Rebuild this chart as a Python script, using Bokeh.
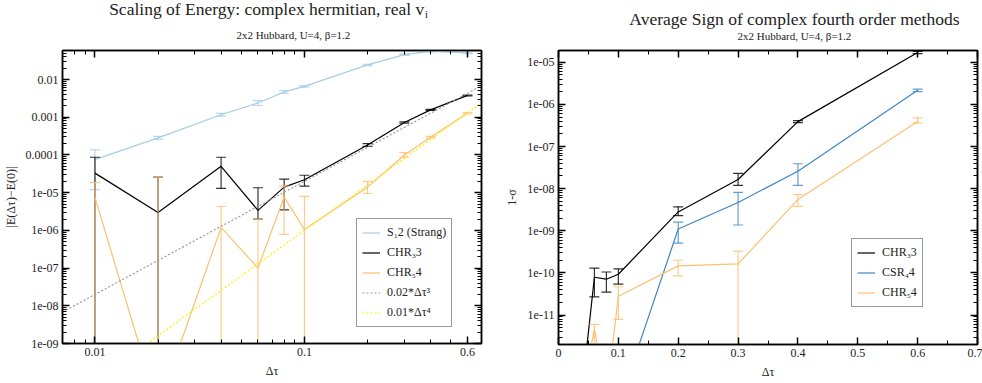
from bokeh.plotting import figure
from bokeh.layouts import row, column
from bokeh.models import (Range1d, FixedTicker, LogAxis, LinearAxis, CustomJSTickFormatter,
                          Legend, LegendItem)
from bokeh.core.properties import value
from bokeh.embed import file_html
from bokeh.resources import INLINE

FONT = "Liberation Serif"

# ---------------- data: left panel (energy scaling) ----------------
dt_strang = [0.01, 0.02, 0.04, 0.06, 0.08, 0.1, 0.2, 0.3, 0.4, 0.6]
e_strang = [7.5e-5, 2.85e-4, 1.17e-3, 2.4e-3, 4.7e-3, 6.6e-3, 2.45e-2, 4.6e-2, 5.6e-2, 5.1e-2]
e_strang_lo = [1.2e-5, 2.6e-4, 1.07e-3, 2.05e-3, 4.3e-3, 6.3e-3, 2.35e-2, 4.4e-2, 5.4e-2, 4.9e-2]
e_strang_hi = [1.37e-4, 3.1e-4, 1.27e-3, 2.75e-3, 5.1e-3, 6.9e-3, 2.55e-2, 4.8e-2, 5.8e-2, 5.3e-2]

dt_chr3 = [0.01, 0.02, 0.04, 0.06, 0.08, 0.1, 0.2, 0.3, 0.4, 0.6]
e_chr3 = [3.3e-5, 3.0e-6, 5.0e-5, 3.4e-6, 1.4e-5, 2.2e-5, 1.85e-4, 7.3e-4, 1.57e-3, 3.8e-3]
e_chr3_lo = [0, 0, 1.3e-5, 2.0e-6, 3.5e-6, 1.5e-5, 1.7e-4, 7.0e-4, 1.52e-3, 3.7e-3]
e_chr3_hi = [8.7e-5, 2.6e-5, 8.7e-5, 1.35e-5, 2.3e-5, 2.9e-5, 2.0e-4, 7.6e-4, 1.62e-3, 3.9e-3]

dt_chr5 = [0.01, 0.02, 0.04, 0.06, 0.08, 0.1, 0.2, 0.3, 0.4, 0.6]
e_chr5 = [7.5e-6, 2e-11, 1.2e-6, 1.0e-7, 7.7e-6, 1.05e-6, 1.4e-5, 1.0e-4, 2.95e-4, 1.28e-3]
e_chr5_lo = [0, 0, 0, 0, 7.8e-7, 0, 9.5e-6, 8.7e-5, 2.8e-4, 1.22e-3]
e_chr5_hi = [1.85e-5, 2.6e-5, 4.3e-6, 2.0e-6, 1.5e-5, 8.0e-6, 2.0e-5, 1.15e-4, 3.1e-4, 1.34e-3]

ref_dt = [0.007, 0.7]                     # extent of the guide lines
ref3_coef, ref3_pow = 0.02, 3             # 0.02*dt^3
ref4_coef, ref4_pow = 0.01, 4             # 0.01*dt^4

left_xticks = [0.01, 0.1, 0.6]
left_xlabels = ["0.01", "0.1", "0.6"]
left_yticks = [1e-9, 1e-8, 1e-7, 1e-6, 1e-5, 1e-4, 1e-3, 1e-2]
left_ylabels = ["1e-09", "1e-08", "1e-07", "1e-06", "1e-05", "0.0001", "0.001", "0.01"]

# ---------------- data: right panel (average sign) ----------------
dt_s_chr3 = [0.04, 0.06, 0.08, 0.1, 0.2, 0.3, 0.4, 0.6]
s_chr3 = [2e-13, 7.9e-11, 7.1e-11, 9.3e-11, 2.8e-9, 1.65e-8, 3.9e-7, 1.7e-5]
s_chr3_lo = [None, 2.7e-11, 3.5e-11, 5.4e-11, 2.3e-9, 1.2e-8, 3.7e-7, 1.6e-5]
s_chr3_hi = [None, 1.3e-10, 1.05e-10, 1.25e-10, 3.7e-9, 2.3e-8, 4.1e-7, 1.8e-5]

dt_s_csr4 = [0.1, 0.2, 0.3, 0.4, 0.6]
s_csr4 = [7e-14, 1.1e-9, 4.7e-9, 2.6e-8, 2.15e-6]
s_csr4_lo = [None, 5.1e-10, 1.37e-9, 1.2e-8, 2.0e-6]
s_csr4_hi = [None, 1.6e-9, 8.2e-9, 3.9e-8, 2.3e-6]

dt_s_chr5 = [0.05, 0.06, 0.08, 0.1, 0.2, 0.3, 0.4, 0.6]
s_chr5 = [9e-13, 4.6e-12, 1.1e-13, 2.8e-11, 1.47e-10, 1.64e-10, 5.5e-9, 3.9e-7]
s_chr5_lo = [None, 0, None, 7.9e-12, 8.5e-11, 0, 3.8e-9, 3.6e-7]
s_chr5_hi = [None, 6e-12, None, 4.7e-11, 2.0e-10, 3.3e-10, 7.2e-9, 4.8e-7]

right_xticks = [0, 0.1, 0.2, 0.3, 0.4, 0.5, 0.6, 0.7]
right_xlabels = ["0", "0.1", "0.2", "0.3", "0.4", "0.5", "0.6", "0.7"]
right_yticks = [1e-11, 1e-10, 1e-9, 1e-8, 1e-7, 1e-6, 1e-5]
right_ylabels = ["1e-11", "1e-10", "1e-09", "1e-08", "1e-07", "1e-06", "1e-05"]

# ---------------- titles ----------------
left_title = "Scaling of Energy: complex hermitian, real v"
left_title_sub = "i"
right_title = "Average Sign of complex fourth order methods"
subtitle = "2x2 Hubbard, U=4, β=1.2"

# ---------------- colours ----------------
C_STRANG = "#a6cee3"
C_BLACK = "#000000"
C_ORANGE = "#fdbf6f"
C_BLUE = "#3d87c6"
C_GRAY = "#999999"
C_YELLOW = "#ffee00"
C_TEXT = "#222222"

LEFT_Y = (1e-9, 0.059)
LEFT_X = (0.007, 0.7)
RIGHT_Y = (2e-12, 1.9e-5)
RIGHT_X = (0.0, 0.7)

HEAD_H = 48


def fmt(tvals, tlabels, log):
    code = """
    let best = 0, bd = Infinity;
    for (let i = 0; i < tv.length; i++) {
      const d = lg ? Math.abs(Math.log10(tv[i]) - Math.log10(tick)) : Math.abs(tv[i] - tick);
      if (d < bd) { bd = d; best = i; }
    }
    return tl[best];
    """
    return CustomJSTickFormatter(args=dict(tv=tvals, tl=tlabels, lg=log), code=code)


BLANK = CustomJSTickFormatter(code="return '';")


def log_minors(decades):
    out = []
    for e in decades:
        for k in range(2, 10):
            out.append(k * 10.0 ** e)
    return out


def style_axis(ax, labelled=True):
    ax.axis_line_color = "black"
    ax.axis_line_width = 1.5
    ax.major_tick_in = 7
    ax.major_tick_out = 0
    ax.minor_tick_in = 4
    ax.minor_tick_out = 0
    ax.major_tick_line_color = "black"
    ax.minor_tick_line_color = "black"
    ax.major_tick_line_width = 1.5
    ax.minor_tick_line_width = 1
    ax.major_label_text_font = FONT
    ax.major_label_text_font_size = "12px"
    ax.major_label_text_color = C_TEXT
    ax.axis_label_text_font = FONT
    ax.axis_label_text_font_size = "12px"
    ax.axis_label_text_font_style = "normal"
    ax.axis_label_text_color = C_TEXT
    ax.axis_label_standoff = 5
    if labelled:
        ax.major_label_standoff = 4
    else:
        ax.formatter = BLANK
        ax.major_label_standoff = 0
        ax.major_label_text_font_size = "0px"


def errorbars(p, x, lo, hi, color, ymin, alpha=0.8):
    xs, y0, y1, cx, cy = [], [], [], [], []
    for xi, l, h in zip(x, lo, hi):
        if h is None:
            continue
        lower = l if (l is not None and l > 0) else ymin
        xs.append(xi); y0.append(lower); y1.append(h)
        cx.append(xi); cy.append(h)
        if l is not None and l > 0:
            cx.append(xi); cy.append(l)
    p.segment(x0=xs, y0=y0, x1=xs, y1=y1, line_color=color, line_width=1.2, line_alpha=alpha)
    p.scatter(x=cx, y=cy, marker="dash", size=10, line_color=color, line_width=1.2,
              line_alpha=alpha, fill_alpha=0)


def header(width):
    h = figure(width=width, height=HEAD_H, x_range=Range1d(0, width), y_range=Range1d(0, HEAD_H),
               output_backend="svg", toolbar_location=None, min_border=0,
               x_axis_location=None, y_axis_location=None)
    h.xgrid.visible = False
    h.ygrid.visible = False
    h.outline_line_color = None
    h.background_fill_color = "white"
    h.border_fill_color = "white"
    return h


def htext(h, x, y, text, size, align="center"):
    h.text(x=[x], y=[y], text=[text], text_font=value(FONT), text_font_size=size,
           text_align=align, text_baseline="alphabetic", text_color=C_TEXT)


def base_figure(width, height, x_type, xr, yr, borders):
    p = figure(width=width, height=height, x_axis_type=x_type, y_axis_type="log",
               x_range=Range1d(*xr), y_range=Range1d(*yr), output_backend="svg",
               toolbar_location=None, title=None,
               min_border_left=borders[0], min_border_right=borders[1],
               min_border_top=borders[2], min_border_bottom=borders[3])
    p.xgrid.visible = False
    p.ygrid.visible = False
    p.outline_line_color = "black"
    p.outline_line_width = 1.5
    p.background_fill_color = "white"
    p.border_fill_color = "white"
    return p


# ================= left figure =================
p1 = base_figure(490, 383 - HEAD_H, "log", LEFT_X, LEFT_Y, (60, 9, 2, 40))
xt1 = FixedTicker(ticks=left_xticks, minor_ticks=[0.008, 0.009] + [k / 100 for k in range(2, 10)] + [k / 10 for k in range(2, 8)])
yt1 = FixedTicker(ticks=left_yticks, minor_ticks=log_minors(range(-10, -1)))
p1.xaxis.ticker = xt1
p1.yaxis.ticker = yt1
p1.xaxis.formatter = fmt(left_xticks, left_xlabels, True)
p1.yaxis.formatter = fmt(left_yticks, left_ylabels, True)
p1.xaxis.axis_label = "Δτ"
p1.yaxis.axis_label = "|E(Δτ)−E(0)|"
for ax in list(p1.xaxis) + list(p1.yaxis):
    style_axis(ax)
top1 = LogAxis(ticker=xt1)
right1 = LogAxis(ticker=yt1)
style_axis(top1, False)
style_axis(right1, False)
p1.add_layout(top1, "above")
p1.add_layout(right1, "right")

errorbars(p1, dt_strang, e_strang_lo, e_strang_hi, C_STRANG, LEFT_Y[0])
r_strang = p1.line(dt_strang, e_strang, line_color=C_STRANG, line_width=1.2)
errorbars(p1, dt_chr3, e_chr3_lo, e_chr3_hi, C_BLACK, LEFT_Y[0])
r_chr3 = p1.line(dt_chr3, e_chr3, line_color=C_BLACK, line_width=1.2)
errorbars(p1, dt_chr5, e_chr5_lo, e_chr5_hi, C_ORANGE, LEFT_Y[0])
r_chr5 = p1.line(dt_chr5, e_chr5, line_color=C_ORANGE, line_width=1.2)
r_ref3 = p1.line(ref_dt, [ref3_coef * t ** ref3_pow for t in ref_dt], line_color=C_GRAY,
                 line_width=1.2, line_dash="2 2")
r_ref4 = p1.line(ref_dt, [ref4_coef * t ** ref4_pow for t in ref_dt], line_color=C_YELLOW,
                 line_width=1.2, line_dash="2 2")

leg1 = Legend(items=[LegendItem(label="S₁2 (Strang)", renderers=[r_strang]),
                     LegendItem(label="CHR₃3", renderers=[r_chr3]),
                     LegendItem(label="CHR₅4", renderers=[r_chr5]),
                     LegendItem(label="0.02*Δτ³", renderers=[r_ref3]),
                     LegendItem(label="0.01*Δτ⁴", renderers=[r_ref4])],
              location=(294, 16))
p1.add_layout(leg1, "center")

h1 = header(490)
htext(h1, 423, HEAD_H - 8, left_title, "17.5px", "right")
htext(h1, 424, HEAD_H - 13, left_title_sub, "11px", "left")
htext(h1, 270, HEAD_H - 34, subtitle, "11px")

# ================= right figure =================
p2 = base_figure(492, 383 - HEAD_H, "linear", RIGHT_X, RIGHT_Y, (68, 5, 2, 39))
xt2 = FixedTicker(ticks=right_xticks, minor_ticks=[0.05, 0.15, 0.25, 0.35, 0.45, 0.55, 0.65])
yt2 = FixedTicker(ticks=right_yticks, minor_ticks=log_minors(range(-12, -4)))
p2.xaxis.ticker = xt2
p2.yaxis.ticker = yt2
p2.xaxis.formatter = fmt(right_xticks, right_xlabels, False)
p2.yaxis.formatter = fmt(right_yticks, right_ylabels, True)
p2.xaxis.axis_label = "Δτ"
p2.yaxis.axis_label = "1-σ"
for ax in list(p2.xaxis) + list(p2.yaxis):
    style_axis(ax)
top2 = LinearAxis(ticker=xt2)
right2 = LogAxis(ticker=yt2)
style_axis(top2, False)
style_axis(right2, False)
p2.add_layout(top2, "above")
p2.add_layout(right2, "right")

errorbars(p2, dt_s_chr3, s_chr3_lo, s_chr3_hi, C_BLACK, RIGHT_Y[0])
q_chr3 = p2.line(dt_s_chr3, s_chr3, line_color=C_BLACK, line_width=1.2)
errorbars(p2, dt_s_csr4, s_csr4_lo, s_csr4_hi, C_BLUE, RIGHT_Y[0])
q_csr4 = p2.line(dt_s_csr4, s_csr4, line_color=C_BLUE, line_width=1.2)
errorbars(p2, dt_s_chr5, s_chr5_lo, s_chr5_hi, C_ORANGE, RIGHT_Y[0])
q_chr5 = p2.line(dt_s_chr5, s_chr5, line_color=C_ORANGE, line_width=1.2)

leg2 = Legend(items=[LegendItem(label="CHR₃3", renderers=[q_chr3]),
                     LegendItem(label="CSR₄4", renderers=[q_csr4]),
                     LegendItem(label="CHR₅4", renderers=[q_chr5])],
              location=(293, 37))
p2.add_layout(leg2, "center")

h2 = header(492)
htext(h2, 277, HEAD_H - 18, right_title, "17.5px")
htext(h2, 277, HEAD_H - 35, subtitle, "11px")

for leg in (leg1, leg2):
    leg.label_text_font = FONT
    leg.label_text_font_size = "12px"
    leg.label_text_color = C_TEXT
    leg.label_height = 17
    leg.glyph_height = 17
    leg.glyph_width = 18
    leg.label_standoff = 7
    leg.spacing = 3
    leg.padding = 5
    leg.margin = 0
    leg.border_line_color = "#333333"
    leg.border_line_width = 1.5
    leg.background_fill_alpha = 1.0

layout = row(column(h1, p1), column(h2, p2))
open("out.html", "w").write(file_html(layout, INLINE))
